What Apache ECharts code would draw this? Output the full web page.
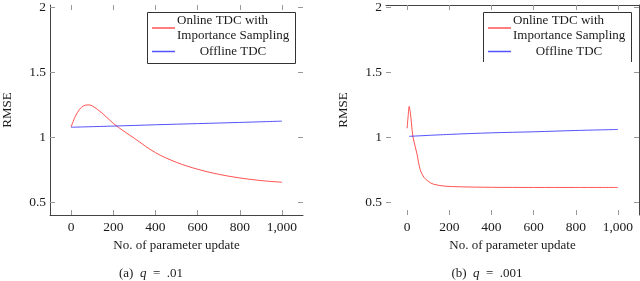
<!DOCTYPE html>
<html>
<head>
<meta charset="utf-8">
<script src="https://cdn.jsdelivr.net/npm/echarts@6/dist/echarts.min.js"></script>
<style>html,body{margin:0;padding:0;background:#fff}#c{width:640px;height:281px}</style>
</head>
<body>
<div id="c"></div>
<script>
// Panel (a) q = .01
const onlineA_x = [0, 10, 20, 40, 60, 80, 100, 150, 200, 250, 300, 400, 500, 600, 700, 800, 900, 1000];
const onlineA_y = [1.077, 1.12, 1.158, 1.213, 1.24, 1.247, 1.24, 1.18, 1.105, 1.045, 0.99, 0.88, 0.805, 0.752, 0.713, 0.685, 0.665, 0.652];
const offlineA_x = [0, 200, 400, 600, 800, 1000];
const offlineA_y = [1.075, 1.084, 1.094, 1.103, 1.112, 1.122];
// Panel (b) q = .001
const onlineB_x = [0, 5, 10, 15, 20, 28, 46, 62, 80, 100, 125, 180, 250, 400, 600, 800, 1000];
const onlineB_y = [1.067, 1.16, 1.235, 1.19, 1.12, 1.0, 0.877, 0.75, 0.69, 0.66, 0.637, 0.622, 0.617, 0.613, 0.612, 0.612, 0.612];
const offlineB_x = [10, 200, 400, 600, 800, 1000];
const offlineB_y = [1.005, 1.02, 1.032, 1.04, 1.05, 1.058];

const xTicks = [0, 200, 400, 600, 800, 1000];
const xTickLabels = ['0', '200', '400', '600', '800', '1,000'];
const yTicks = [0.5, 1, 1.5, 2];
const yTickLabels = ['0.5', '1', '1.5', '2'];
const seriesNames = ['Online TDC with Importance Sampling', 'Offline TDC'];
const captions = ['(a)  {i|q}  =  .01', '(b)  {i|q}  =  .001'];

const pairs = (xs, ys) => xs.map((x, i) => [x, ys[i]]);
const FONT = "'Liberation Serif', 'DejaVu Serif', serif";
const TXT = '#1a1a1a';
const LINE = '#444';
const TICK = '#999';

function xAx(grid, pos, showLine, showLabel, name) {
  return {
    type: 'value', gridIndex: grid, position: pos, min: -100, max: 1100,
    axisLine: {show: showLine, onZero: false, lineStyle: {color: LINE, width: 1}},
    axisTick: {show: true, inside: true, length: 5, customValues: xTicks, lineStyle: {color: TICK}},
    axisLabel: {show: showLabel, customValues: xTicks, margin: 5, color: TXT, fontFamily: FONT, fontSize: 13.5,
      formatter: v => xTickLabels[xTicks.indexOf(v)]},
    splitLine: {show: false},
    name: name || '', nameLocation: 'middle', nameGap: 24,
    nameTextStyle: {color: TXT, fontFamily: FONT, fontSize: 13}
  };
}
function yAx(grid, pos, showLine, showLabel, name) {
  return {
    type: 'value', gridIndex: grid, position: pos, min: 0.4, max: 2.015,
    axisLine: {show: showLine, onZero: false, lineStyle: {color: LINE, width: 1}},
    axisTick: {show: true, inside: true, length: 5, customValues: yTicks, lineStyle: {color: TICK}},
    axisLabel: {show: showLabel, customValues: yTicks, margin: 4, color: TXT, fontFamily: FONT, fontSize: 13.5,
      formatter: v => yTickLabels[yTicks.indexOf(v)]},
    splitLine: {show: false},
    name: name || '', nameLocation: 'middle', nameGap: 36, nameRotate: 90,
    nameTextStyle: {color: TXT, fontFamily: FONT, fontSize: 13}
  };
}
function legend(left) {
  return {
    left: left, top: 14, orient: 'vertical', itemWidth: 23, itemHeight: 1.5, itemGap: 3,
    padding: [0, 5, 0, 5], borderWidth: 0, icon: 'rect', selectedMode: false,
    data: seriesNames,
    textStyle: {fontFamily: FONT, fontSize: 13, color: TXT, padding: [0, 0, 0, -3],
      rich: {
        a: {width: 112, align: 'left', fontFamily: FONT, fontSize: 13, lineHeight: 15, color: TXT},
        b: {width: 112, align: 'center', fontFamily: FONT, fontSize: 13, lineHeight: 15, color: TXT}
      }},
    formatter: n => n === seriesNames[0] ? '{a|Online TDC with}\n{a|Importance Sampling}' : '{b|Offline TDC}'
  };
}
function line(name, data, xi, yi, color) {
  return {type: 'line', name: name, data: data, xAxisIndex: xi, yAxisIndex: yi, smooth: 0.35,
    showSymbol: false, symbol: 'none', lineStyle: {color: color, width: 1}, itemStyle: {color: color},
    animation: false, silent: true};
}

const chart = echarts.init(document.getElementById('c'), null, {renderer: 'canvas'});
chart.setOption({
  animation: false,
  backgroundColor: '#fff',
  grid: [
    {left: 50, top: 5, width: 253, height: 210},
    {left: 386, top: 5, width: 253, height: 210}
  ],
  xAxis: [
    xAx(0, 'bottom', true, true, 'No. of parameter update'),
    xAx(0, 'top', false, false),
    xAx(1, 'bottom', false, true, 'No. of parameter update'),
    xAx(1, 'top', true, false)
  ],
  yAxis: [
    yAx(0, 'left', true, true, 'RMSE'),
    yAx(0, 'right', false, false),
    yAx(1, 'left', false, true, 'RMSE'),
    yAx(1, 'right', true, false)
  ],
  legend: [legend(147), legend(483)],
  title: [
    {text: captions[0], left: 151, top: 267, textAlign: 'center', padding: 0,
      textStyle: {fontFamily: FONT, fontSize: 13, fontWeight: 'normal', color: TXT, rich: {i: {fontStyle: 'italic', fontFamily: FONT, fontSize: 13, color: TXT}}}},
    {text: captions[1], left: 487, top: 267, textAlign: 'center', padding: 0,
      textStyle: {fontFamily: FONT, fontSize: 13, fontWeight: 'normal', color: TXT, rich: {i: {fontStyle: 'italic', fontFamily: FONT, fontSize: 13, color: TXT}}}}
  ],
  graphic: [
    {type: 'rect', shape: {x: 147.5, y: 12.5, width: 148, height: 51}, style: {fill: 'none', stroke: '#333', lineWidth: 1}, silent: true},
    {type: 'polyline', shape: {points: [[483.5, 62], [483.5, 12.5], [631.5, 12.5], [631.5, 62]]}, style: {fill: 'none', stroke: '#333', lineWidth: 1}, silent: true}
  ],
  series: [
    line(seriesNames[0], pairs(onlineA_x, onlineA_y), 0, 0, 'rgba(255,40,40,0.8)'),
    line(seriesNames[1], pairs(offlineA_x, offlineA_y), 0, 0, 'rgba(40,40,255,0.8)'),
    line(seriesNames[0], pairs(onlineB_x, onlineB_y), 2, 2, 'rgba(255,40,40,0.8)'),
    line(seriesNames[1], pairs(offlineB_x, offlineB_y), 2, 2, 'rgba(40,40,255,0.8)')
  ]
});
</script>
</body>
</html>
